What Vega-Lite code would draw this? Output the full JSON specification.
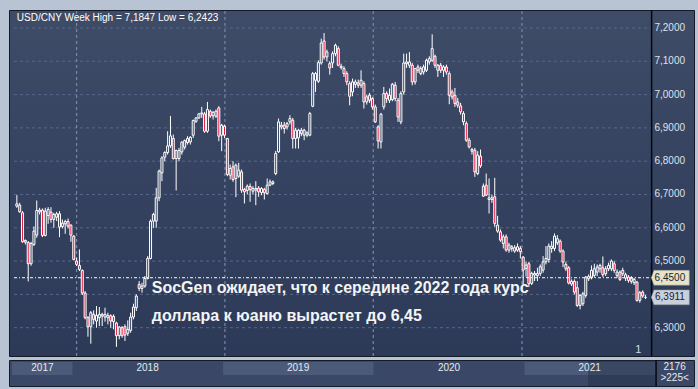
{
"$schema": "https://vega.github.io/schema/vega-lite/v6.json",
"padding": {"left": 8, "top": 8, "right": 5, "bottom": 9},
"background": "#b8c4d3",
"spacing": 0,
"config": {"view": {"stroke": "#151b26", "strokeWidth": 1}, "font": "Liberation Sans"},
"datasets": {
"grid": [{"v":6.3,"t":"6,3000"},{"v":6.4,"t":"6,4000"},{"v":6.5,"t":"6,5000"},{"v":6.6,"t":"6,6000"},{"v":6.7,"t":"6,7000"},{"v":6.8,"t":"6,8000"},{"v":6.9,"t":"6,9000"},{"v":7.0,"t":"7,0000"},{"v":7.1,"t":"7,1000"},{"v":7.2,"t":"7,2000"}],
"vgrid": [{"g":"2018-01-01","lo":6.215,"hi":7.254},{"g":"2019-01-01","lo":6.215,"hi":7.254},{"g":"2020-01-01","lo":6.215,"hi":7.254},{"g":"2021-01-01","lo":6.215,"hi":7.254}],
"sep": [{"g":"2021-11-16","lo":6.215,"hi":7.254}],
"one": [{}],
"years": [
{"y":"2017","s":"2017-08-07","e":"2018-01-01","m":"2017-10-20","shade":true},
{"y":"2018","s":"2018-01-01","e":"2019-01-01","m":"2018-07-02","shade":false},
{"y":"2019","s":"2019-01-01","e":"2020-01-01","m":"2019-07-02","shade":true},
{"y":"2020","s":"2020-01-01","e":"2021-01-01","m":"2020-07-02","shade":false},
{"y":"2021","s":"2021-01-01","e":"2021-11-14","m":"2021-06-08","shade":true}
],
"candles": [
{"d":"2017-08-07","o":6.665,"h":6.698,"l":6.660,"c":6.672},
{"d":"2017-08-14","o":6.668,"h":6.675,"l":6.645,"c":6.648},
{"d":"2017-08-21","o":6.645,"h":6.650,"l":6.555,"c":6.558},
{"d":"2017-08-28","o":6.557,"h":6.565,"l":6.550,"c":6.562},
{"d":"2017-09-04","o":6.556,"h":6.560,"l":6.439,"c":6.492},
{"d":"2017-09-11","o":6.492,"h":6.558,"l":6.486,"c":6.553},
{"d":"2017-09-18","o":6.550,"h":6.604,"l":6.545,"c":6.590},
{"d":"2017-09-25","o":6.578,"h":6.682,"l":6.570,"c":6.652},
{"d":"2017-10-02","o":6.648,"h":6.660,"l":6.640,"c":6.653},
{"d":"2017-10-09","o":6.653,"h":6.658,"l":6.572,"c":6.577},
{"d":"2017-10-16","o":6.577,"h":6.660,"l":6.574,"c":6.650},
{"d":"2017-10-23","o":6.637,"h":6.662,"l":6.612,"c":6.655},
{"d":"2017-10-30","o":6.647,"h":6.662,"l":6.615,"c":6.625},
{"d":"2017-11-06","o":6.625,"h":6.645,"l":6.600,"c":6.640},
{"d":"2017-11-13","o":6.632,"h":6.648,"l":6.620,"c":6.642},
{"d":"2017-11-20","o":6.642,"h":6.650,"l":6.572,"c":6.602},
{"d":"2017-11-27","o":6.604,"h":6.625,"l":6.598,"c":6.614},
{"d":"2017-12-04","o":6.612,"h":6.624,"l":6.582,"c":6.619},
{"d":"2017-12-11","o":6.619,"h":6.628,"l":6.598,"c":6.605},
{"d":"2017-12-18","o":6.608,"h":6.610,"l":6.558,"c":6.578},
{"d":"2017-12-25","o":6.575,"h":6.578,"l":6.502,"c":6.505},
{"d":"2018-01-01","o":6.500,"h":6.510,"l":6.485,"c":6.490},
{"d":"2018-01-08","o":6.487,"h":6.535,"l":6.470,"c":6.475},
{"d":"2018-01-15","o":6.472,"h":6.475,"l":6.398,"c":6.404},
{"d":"2018-01-22","o":6.404,"h":6.410,"l":6.325,"c":6.330},
{"d":"2018-01-29","o":6.330,"h":6.335,"l":6.273,"c":6.303},
{"d":"2018-02-05","o":6.303,"h":6.350,"l":6.252,"c":6.345},
{"d":"2018-02-12","o":6.340,"h":6.352,"l":6.310,"c":6.325},
{"d":"2018-02-19","o":6.320,"h":6.365,"l":6.300,"c":6.337},
{"d":"2018-02-26","o":6.330,"h":6.362,"l":6.305,"c":6.340},
{"d":"2018-03-05","o":6.335,"h":6.345,"l":6.305,"c":6.340},
{"d":"2018-03-12","o":6.332,"h":6.360,"l":6.318,"c":6.340},
{"d":"2018-03-19","o":6.330,"h":6.345,"l":6.310,"c":6.337},
{"d":"2018-03-26","o":6.336,"h":6.340,"l":6.300,"c":6.320},
{"d":"2018-04-02","o":6.334,"h":6.340,"l":6.295,"c":6.318},
{"d":"2018-04-09","o":6.314,"h":6.318,"l":6.2423,"c":6.276},
{"d":"2018-04-16","o":6.276,"h":6.305,"l":6.265,"c":6.302},
{"d":"2018-04-23","o":6.300,"h":6.305,"l":6.270,"c":6.276},
{"d":"2018-04-30","o":6.303,"h":6.310,"l":6.260,"c":6.278},
{"d":"2018-05-07","o":6.283,"h":6.322,"l":6.275,"c":6.295},
{"d":"2018-05-14","o":6.292,"h":6.345,"l":6.285,"c":6.332},
{"d":"2018-05-21","o":6.332,"h":6.372,"l":6.325,"c":6.362},
{"d":"2018-05-28","o":6.360,"h":6.400,"l":6.350,"c":6.395},
{"d":"2018-06-04","o":6.430,"h":6.440,"l":6.410,"c":6.418},
{"d":"2018-06-11","o":6.418,"h":6.435,"l":6.405,"c":6.425},
{"d":"2018-06-18","o":6.425,"h":6.455,"l":6.420,"c":6.448},
{"d":"2018-06-25","o":6.448,"h":6.515,"l":6.445,"c":6.508},
{"d":"2018-07-02","o":6.508,"h":6.625,"l":6.505,"c":6.620},
{"d":"2018-07-09","o":6.620,"h":6.645,"l":6.600,"c":6.640},
{"d":"2018-07-16","o":6.620,"h":6.720,"l":6.600,"c":6.690},
{"d":"2018-07-23","o":6.690,"h":6.775,"l":6.680,"c":6.770},
{"d":"2018-07-30","o":6.765,"h":6.815,"l":6.740,"c":6.810},
{"d":"2018-08-06","o":6.812,"h":6.830,"l":6.800,"c":6.826},
{"d":"2018-08-13","o":6.826,"h":6.890,"l":6.820,"c":6.846},
{"d":"2018-08-20","o":6.846,"h":6.936,"l":6.840,"c":6.876},
{"d":"2018-08-27","o":6.868,"h":6.880,"l":6.805,"c":6.808},
{"d":"2018-09-03","o":6.808,"h":6.835,"l":6.712,"c":6.832},
{"d":"2018-09-10","o":6.808,"h":6.840,"l":6.800,"c":6.832},
{"d":"2018-09-17","o":6.828,"h":6.860,"l":6.820,"c":6.857},
{"d":"2018-09-24","o":6.842,"h":6.865,"l":6.835,"c":6.862},
{"d":"2018-10-01","o":6.868,"h":6.875,"l":6.850,"c":6.856},
{"d":"2018-10-08","o":6.858,"h":6.875,"l":6.850,"c":6.872},
{"d":"2018-10-15","o":6.878,"h":6.925,"l":6.870,"c":6.922},
{"d":"2018-10-22","o":6.920,"h":6.932,"l":6.915,"c":6.930},
{"d":"2018-10-29","o":6.930,"h":6.945,"l":6.927,"c":6.942},
{"d":"2018-11-05","o":6.942,"h":6.963,"l":6.930,"c":6.945},
{"d":"2018-11-12","o":6.942,"h":6.948,"l":6.885,"c":6.890},
{"d":"2018-11-19","o":6.890,"h":6.978,"l":6.885,"c":6.955},
{"d":"2018-11-26","o":6.950,"h":6.955,"l":6.930,"c":6.936},
{"d":"2018-12-03","o":6.936,"h":6.950,"l":6.925,"c":6.947},
{"d":"2018-12-10","o":6.935,"h":6.955,"l":6.930,"c":6.950},
{"d":"2018-12-17","o":6.960,"h":6.965,"l":6.860,"c":6.875},
{"d":"2018-12-24","o":6.878,"h":6.912,"l":6.830,"c":6.908},
{"d":"2018-12-31","o":6.905,"h":6.910,"l":6.870,"c":6.878},
{"d":"2019-01-07","o":6.868,"h":6.870,"l":6.755,"c":6.760},
{"d":"2019-01-14","o":6.758,"h":6.790,"l":6.745,"c":6.778},
{"d":"2019-01-21","o":6.783,"h":6.800,"l":6.738,"c":6.745},
{"d":"2019-01-28","o":6.748,"h":6.793,"l":6.692,"c":6.788},
{"d":"2019-02-04","o":6.755,"h":6.795,"l":6.750,"c":6.773},
{"d":"2019-02-11","o":6.768,"h":6.775,"l":6.705,"c":6.713},
{"d":"2019-02-18","o":6.715,"h":6.720,"l":6.673,"c":6.708},
{"d":"2019-02-25","o":6.712,"h":6.730,"l":6.700,"c":6.725},
{"d":"2019-03-04","o":6.724,"h":6.733,"l":6.678,"c":6.715},
{"d":"2019-03-11","o":6.710,"h":6.725,"l":6.700,"c":6.718},
{"d":"2019-03-18","o":6.713,"h":6.740,"l":6.668,"c":6.718},
{"d":"2019-03-25","o":6.719,"h":6.725,"l":6.693,"c":6.708},
{"d":"2019-04-01","o":6.706,"h":6.722,"l":6.698,"c":6.718},
{"d":"2019-04-08","o":6.715,"h":6.720,"l":6.685,"c":6.705},
{"d":"2019-04-15","o":6.703,"h":6.748,"l":6.700,"c":6.728},
{"d":"2019-04-22","o":6.728,"h":6.745,"l":6.725,"c":6.738},
{"d":"2019-04-29","o":6.733,"h":6.742,"l":6.728,"c":6.738},
{"d":"2019-05-06","o":6.763,"h":6.831,"l":6.758,"c":6.823},
{"d":"2019-05-13","o":6.828,"h":6.928,"l":6.825,"c":6.918},
{"d":"2019-05-20","o":6.903,"h":6.918,"l":6.895,"c":6.908},
{"d":"2019-05-27","o":6.908,"h":6.918,"l":6.883,"c":6.898},
{"d":"2019-06-03","o":6.903,"h":6.918,"l":6.895,"c":6.913},
{"d":"2019-06-10","o":6.918,"h":6.938,"l":6.910,"c":6.928},
{"d":"2019-06-17","o":6.923,"h":6.930,"l":6.838,"c":6.868},
{"d":"2019-06-24","o":6.868,"h":6.900,"l":6.838,"c":6.893},
{"d":"2019-07-01","o":6.870,"h":6.897,"l":6.838,"c":6.893},
{"d":"2019-07-08","o":6.893,"h":6.900,"l":6.875,"c":6.883},
{"d":"2019-07-15","o":6.878,"h":6.897,"l":6.863,"c":6.893},
{"d":"2019-07-22","o":6.878,"h":6.890,"l":6.872,"c":6.885},
{"d":"2019-07-29","o":6.878,"h":6.948,"l":6.875,"c":6.943},
{"d":"2019-08-05","o":6.965,"h":7.068,"l":6.962,"c":7.063},
{"d":"2019-08-12","o":7.043,"h":7.068,"l":7.008,"c":7.063},
{"d":"2019-08-19","o":7.040,"h":7.103,"l":7.035,"c":7.096},
{"d":"2019-08-26","o":7.095,"h":7.168,"l":7.090,"c":7.155},
{"d":"2019-09-02","o":7.161,"h":7.1847,"l":7.105,"c":7.113},
{"d":"2019-09-09","o":7.113,"h":7.135,"l":7.100,"c":7.128},
{"d":"2019-09-16","o":7.093,"h":7.100,"l":7.060,"c":7.080},
{"d":"2019-09-23","o":7.095,"h":7.130,"l":7.080,"c":7.123},
{"d":"2019-09-30","o":7.123,"h":7.153,"l":7.115,"c":7.148},
{"d":"2019-10-07","o":7.138,"h":7.145,"l":7.085,"c":7.088},
{"d":"2019-10-14","o":7.081,"h":7.093,"l":7.075,"c":7.085},
{"d":"2019-10-21","o":7.078,"h":7.085,"l":7.053,"c":7.063},
{"d":"2019-10-28","o":7.063,"h":7.070,"l":7.028,"c":7.038},
{"d":"2019-11-04","o":7.033,"h":7.040,"l":6.968,"c":6.995},
{"d":"2019-11-11","o":7.008,"h":7.048,"l":6.995,"c":7.038},
{"d":"2019-11-18","o":7.031,"h":7.045,"l":7.020,"c":7.038},
{"d":"2019-11-25","o":7.035,"h":7.045,"l":7.020,"c":7.028},
{"d":"2019-12-02","o":7.028,"h":7.073,"l":7.020,"c":7.043},
{"d":"2019-12-09","o":7.033,"h":7.040,"l":6.958,"c":6.978},
{"d":"2019-12-16","o":6.978,"h":7.000,"l":6.970,"c":6.993},
{"d":"2019-12-23","o":6.998,"h":7.005,"l":6.975,"c":6.983},
{"d":"2019-12-30","o":6.988,"h":6.992,"l":6.955,"c":6.963},
{"d":"2020-01-06","o":6.963,"h":6.970,"l":6.915,"c":6.918},
{"d":"2020-01-13","o":6.903,"h":6.908,"l":6.838,"c":6.861},
{"d":"2020-01-20","o":6.858,"h":6.945,"l":6.838,"c":6.941},
{"d":"2020-01-27","o":6.963,"h":7.023,"l":6.955,"c":7.003},
{"d":"2020-02-03","o":7.003,"h":7.010,"l":6.975,"c":6.988},
{"d":"2020-02-10","o":6.983,"h":7.018,"l":6.975,"c":6.998},
{"d":"2020-02-17","o":6.985,"h":7.035,"l":6.980,"c":7.031},
{"d":"2020-02-24","o":7.028,"h":7.038,"l":6.980,"c":6.988},
{"d":"2020-03-02","o":6.983,"h":6.990,"l":6.918,"c":6.933},
{"d":"2020-03-09","o":6.918,"h":7.010,"l":6.911,"c":7.003},
{"d":"2020-03-16","o":7.008,"h":7.123,"l":7.000,"c":7.095},
{"d":"2020-03-23","o":7.093,"h":7.123,"l":7.080,"c":7.098},
{"d":"2020-03-30","o":7.088,"h":7.128,"l":7.080,"c":7.098},
{"d":"2020-04-06","o":7.088,"h":7.095,"l":7.028,"c":7.038},
{"d":"2020-04-13","o":7.038,"h":7.080,"l":7.030,"c":7.078},
{"d":"2020-04-20","o":7.083,"h":7.090,"l":7.065,"c":7.073},
{"d":"2020-04-27","o":7.063,"h":7.085,"l":7.058,"c":7.078},
{"d":"2020-05-04","o":7.068,"h":7.090,"l":7.060,"c":7.083},
{"d":"2020-05-11","o":7.073,"h":7.108,"l":7.068,"c":7.103},
{"d":"2020-05-18","o":7.098,"h":7.115,"l":7.090,"c":7.108},
{"d":"2020-05-25","o":7.103,"h":7.181,"l":7.098,"c":7.138},
{"d":"2020-06-01","o":7.115,"h":7.120,"l":7.080,"c":7.088},
{"d":"2020-06-08","o":7.073,"h":7.092,"l":7.053,"c":7.088},
{"d":"2020-06-15","o":7.088,"h":7.095,"l":7.065,"c":7.073},
{"d":"2020-06-22","o":7.073,"h":7.088,"l":7.053,"c":7.083},
{"d":"2020-06-29","o":7.083,"h":7.090,"l":7.060,"c":7.068},
{"d":"2020-07-06","o":7.063,"h":7.070,"l":6.971,"c":6.998},
{"d":"2020-07-13","o":7.008,"h":7.015,"l":6.985,"c":6.993},
{"d":"2020-07-20","o":6.998,"h":7.020,"l":6.963,"c":6.973},
{"d":"2020-07-27","o":6.978,"h":6.990,"l":6.960,"c":6.968},
{"d":"2020-08-03","o":6.966,"h":6.975,"l":6.940,"c":6.948},
{"d":"2020-08-10","o":6.943,"h":6.950,"l":6.908,"c":6.918},
{"d":"2020-08-17","o":6.913,"h":6.920,"l":6.858,"c":6.863},
{"d":"2020-08-24","o":6.863,"h":6.870,"l":6.838,"c":6.843},
{"d":"2020-08-31","o":6.830,"h":6.840,"l":6.820,"c":6.835},
{"d":"2020-09-07","o":6.833,"h":6.840,"l":6.753,"c":6.768},
{"d":"2020-09-14","o":6.763,"h":6.830,"l":6.758,"c":6.818},
{"d":"2020-09-21","o":6.815,"h":6.835,"l":6.780,"c":6.786},
{"d":"2020-09-28","o":6.725,"h":6.733,"l":6.693,"c":6.695},
{"d":"2020-10-05","o":6.728,"h":6.763,"l":6.695,"c":6.698},
{"d":"2020-10-12","o":6.685,"h":6.748,"l":6.643,"c":6.690},
{"d":"2020-10-19","o":6.685,"h":6.700,"l":6.675,"c":6.690},
{"d":"2020-10-26","o":6.693,"h":6.750,"l":6.603,"c":6.613},
{"d":"2020-11-02","o":6.590,"h":6.636,"l":6.585,"c":6.608},
{"d":"2020-11-09","o":6.588,"h":6.595,"l":6.558,"c":6.563},
{"d":"2020-11-16","o":6.553,"h":6.580,"l":6.538,"c":6.573},
{"d":"2020-11-23","o":6.573,"h":6.580,"l":6.528,"c":6.533},
{"d":"2020-11-30","o":6.533,"h":6.555,"l":6.525,"c":6.548},
{"d":"2020-12-07","o":6.538,"h":6.548,"l":6.528,"c":6.543},
{"d":"2020-12-14","o":6.530,"h":6.548,"l":6.525,"c":6.540},
{"d":"2020-12-21","o":6.533,"h":6.553,"l":6.528,"c":6.543},
{"d":"2020-12-28","o":6.538,"h":6.545,"l":6.508,"c":6.528},
{"d":"2021-01-04","o":6.512,"h":6.515,"l":6.430,"c":6.473},
{"d":"2021-01-11","o":6.478,"h":6.498,"l":6.453,"c":6.488},
{"d":"2021-01-18","o":6.492,"h":6.498,"l":6.422,"c":6.432},
{"d":"2021-01-25","o":6.433,"h":6.468,"l":6.428,"c":6.463},
{"d":"2021-02-01","o":6.458,"h":6.470,"l":6.440,"c":6.463},
{"d":"2021-02-08","o":6.456,"h":6.480,"l":6.440,"c":6.463},
{"d":"2021-02-15","o":6.463,"h":6.490,"l":6.455,"c":6.483},
{"d":"2021-02-22","o":6.473,"h":6.515,"l":6.465,"c":6.498},
{"d":"2021-03-01","o":6.498,"h":6.545,"l":6.490,"c":6.508},
{"d":"2021-03-08","o":6.505,"h":6.553,"l":6.495,"c":6.545},
{"d":"2021-03-15","o":6.538,"h":6.560,"l":6.525,"c":6.545},
{"d":"2021-03-22","o":6.538,"h":6.583,"l":6.530,"c":6.575},
{"d":"2021-03-29","o":6.555,"h":6.578,"l":6.548,"c":6.567},
{"d":"2021-04-05","o":6.560,"h":6.565,"l":6.525,"c":6.530},
{"d":"2021-04-12","o":6.530,"h":6.535,"l":6.482,"c":6.497},
{"d":"2021-04-19","o":6.490,"h":6.498,"l":6.470,"c":6.477},
{"d":"2021-04-26","o":6.480,"h":6.485,"l":6.430,"c":6.434},
{"d":"2021-05-03","o":6.431,"h":6.445,"l":6.425,"c":6.439},
{"d":"2021-05-10","o":6.439,"h":6.445,"l":6.400,"c":6.407},
{"d":"2021-05-17","o":6.420,"h":6.440,"l":6.362,"c":6.367},
{"d":"2021-05-24","o":6.367,"h":6.400,"l":6.355,"c":6.397},
{"d":"2021-05-31","o":6.372,"h":6.408,"l":6.365,"c":6.402},
{"d":"2021-06-07","o":6.397,"h":6.455,"l":6.390,"c":6.452},
{"d":"2021-06-14","o":6.447,"h":6.460,"l":6.440,"c":6.454},
{"d":"2021-06-21","o":6.452,"h":6.487,"l":6.445,"c":6.472},
{"d":"2021-06-28","o":6.457,"h":6.492,"l":6.450,"c":6.477},
{"d":"2021-07-05","o":6.467,"h":6.490,"l":6.455,"c":6.482},
{"d":"2021-07-12","o":6.477,"h":6.492,"l":6.465,"c":6.487},
{"d":"2021-07-19","o":6.480,"h":6.514,"l":6.452,"c":6.459},
{"d":"2021-07-26","o":6.462,"h":6.485,"l":6.455,"c":6.477},
{"d":"2021-08-02","o":6.477,"h":6.495,"l":6.470,"c":6.487},
{"d":"2021-08-09","o":6.477,"h":6.505,"l":6.470,"c":6.500},
{"d":"2021-08-16","o":6.492,"h":6.500,"l":6.465,"c":6.472},
{"d":"2021-08-23","o":6.457,"h":6.475,"l":6.450,"c":6.467},
{"d":"2021-08-30","o":6.467,"h":6.472,"l":6.440,"c":6.445},
{"d":"2021-09-06","o":6.462,"h":6.480,"l":6.455,"c":6.472},
{"d":"2021-09-13","o":6.449,"h":6.465,"l":6.440,"c":6.459},
{"d":"2021-09-20","o":6.452,"h":6.458,"l":6.435,"c":6.442},
{"d":"2021-09-27","o":6.449,"h":6.455,"l":6.432,"c":6.439},
{"d":"2021-10-04","o":6.435,"h":6.450,"l":6.428,"c":6.445},
{"d":"2021-10-11","o":6.437,"h":6.440,"l":6.378,"c":6.382},
{"d":"2021-10-18","o":6.382,"h":6.410,"l":6.375,"c":6.405},
{"d":"2021-10-25","o":6.407,"h":6.412,"l":6.390,"c":6.395},
{"d":"2021-11-01","o":6.3905,"h":6.398,"l":6.386,"c":6.3911}
]
},
"vconcat": [
{
"width": 685,
"height": 346,
"view": {"fill": {"gradient": "linear", "x1": 0, "y1": 0, "x2": 0, "y2": 1, "stops": [{"offset": 0, "color": "#3f4c68"}, {"offset": 1, "color": "#2c3957"}]}, "stroke": "#151b26"},
"layer": [
{
"data": {"name": "grid"},
"mark": {"type": "rule", "stroke": "#58668a", "strokeDash": [3, 3], "strokeWidth": 1},
"encoding": {
"y": {"field": "v", "type": "quantitative", "scale": {"domain": [6.215, 7.254], "nice": false, "zero": false}, "axis": null},
"x": {"datum": {"year": 2017, "month": 7, "date": 31, "utc": true}, "type": "temporal",
"scale": {"type": "utc", "domain": [{"year": 2017, "month": 7, "date": 31, "utc": true}, {"year": 2022, "month": 2, "date": 16, "utc": true}]},
"axis": null},
"x2": {"datum": {"year": 2021, "month": 11, "date": 16, "utc": true}}
}
},
{
"data": {"name": "vgrid"},
"mark": {"type": "rule", "stroke": "#7886a8", "strokeDash": [3, 3], "strokeWidth": 1.2},
"encoding": {
"x": {"field": "g", "type": "temporal", "axis": null},
"y": {"field": "lo", "type": "quantitative", "axis": null},
"y2": {"field": "hi"}
}
},
{
"data": {"name": "sep"},
"mark": {"type": "rule", "stroke": "#05070b", "strokeWidth": 1.5},
"encoding": {
"x": {"field": "g", "type": "temporal", "axis": null},
"y": {"field": "lo", "type": "quantitative", "axis": null},
"y2": {"field": "hi"}
}
},
{
"data": {"name": "grid"},
"transform": [{"filter": "datum.v != 6.4"}],
"mark": {"type": "text", "align": "left", "baseline": "middle", "fontSize": 10, "font": "Liberation Sans", "color": "#dde2ea"},
"encoding": {
"x": {"datum": {"year": 2021, "month": 11, "date": 23, "utc": true}, "type": "temporal", "axis": null},
"y": {"field": "v", "type": "quantitative", "axis": null},
"text": {"field": "t"}
}
},
{
"data": {"name": "candles"},
"mark": {"type": "rule", "stroke": "#ffffff", "strokeWidth": 1},
"encoding": {
"x": {"field": "d", "type": "temporal", "axis": null},
"y": {"field": "l", "type": "quantitative", "axis": null},
"y2": {"field": "h"}
}
},
{
"data": {"name": "candles"},
"mark": {"type": "bar", "width": 2, "stroke": "#ffffff", "strokeWidth": 1},
"encoding": {
"x": {"field": "d", "type": "temporal", "axis": null},
"y": {"field": "o", "type": "quantitative", "axis": null},
"y2": {"field": "c"},
"fill": {"condition": {"test": "datum.c < datum.o", "value": "#e3173e"}, "value": "#37445f"}
}
},
{
"data": {"name": "one"},
"mark": {"type": "rule", "stroke": "#ffffff", "strokeDash": [3, 2, 1, 2], "strokeWidth": 1},
"encoding": {
"y": {"datum": 6.45, "type": "quantitative", "axis": null},
"x": {"datum": {"year": 2017, "month": 7, "date": 31, "utc": true}, "type": "temporal", "axis": null},
"x2": {"datum": {"year": 2021, "month": 11, "date": 16, "utc": true}}
}
},
{
"data": {"name": "one"},
"mark": {"type": "point", "shape": "M-1,0L-0.86,-0.39L1,-0.39L1,0.39L-0.86,0.39Z", "filled": true, "size": 1444, "fill": "#e6e4c6", "stroke": "#8d949e", "strokeWidth": 0.5, "opacity": 1},
"encoding": {
"x": {"datum": {"year": 2022, "month": 1, "date": 1, "utc": true}, "type": "temporal", "axis": null},
"y": {"datum": 6.45, "type": "quantitative", "axis": null}
}
},
{
"data": {"name": "one"},
"mark": {"type": "point", "shape": "M-1,0L-0.86,-0.39L1,-0.39L1,0.39L-0.86,0.39Z", "filled": true, "size": 1444, "fill": "#c9d0da", "stroke": "#8d949e", "strokeWidth": 0.5, "opacity": 1},
"encoding": {
"x": {"datum": {"year": 2022, "month": 1, "date": 1, "utc": true}, "type": "temporal", "axis": null},
"y": {"datum": 6.3911, "type": "quantitative", "axis": null}
}
},
{
"data": {"name": "one"},
"mark": {"type": "text", "align": "center", "baseline": "middle", "fontSize": 10, "font": "Liberation Sans", "color": "#1b2233"},
"encoding": {
"x": {"datum": {"year": 2021, "month": 12, "date": 31, "utc": true}, "type": "temporal", "axis": null},
"y": {"datum": 6.45, "type": "quantitative", "axis": null},
"text": {"value": "6,4500"}
}
},
{
"data": {"name": "one"},
"mark": {"type": "text", "align": "center", "baseline": "middle", "fontSize": 10, "font": "Liberation Sans", "color": "#1b2233"},
"encoding": {
"x": {"datum": {"year": 2021, "month": 12, "date": 31, "utc": true}, "type": "temporal", "axis": null},
"y": {"datum": 6.3911, "type": "quantitative", "axis": null},
"text": {"value": "6,3911"}
}
},
{
"data": {"name": "one"},
"mark": {"type": "text", "align": "left", "baseline": "alphabetic", "fontSize": 10, "font": "Liberation Sans", "color": "#ffffff"},
"encoding": {
"x": {"datum": {"year": 2017, "month": 8, "date": 7, "utc": true}, "type": "temporal", "axis": null},
"y": {"datum": 7.221, "type": "quantitative", "axis": null},
"text": {"value": "USD/CNY Week High = 7,1847 Low = 6,2423"}
}
},
{
"data": {"name": "one"},
"mark": {"type": "text", "align": "left", "baseline": "alphabetic", "fontSize": 16, "fontWeight": "bold", "font": "Liberation Sans", "color": "#f4f4f4", "lineHeight": 28},
"encoding": {
"x": {"datum": {"year": 2018, "month": 7, "date": 5, "utc": true}, "type": "temporal", "axis": null},
"y": {"datum": 6.4027, "type": "quantitative", "axis": null},
"text": {"value": ["SocGen ожидает, что к середине 2022 года курс", "доллара к юаню вырастет до 6,45"]}
}
},
{
"data": {"name": "one"},
"mark": {"type": "text", "align": "left", "baseline": "bottom", "fontSize": 11, "font": "Liberation Sans", "color": "#d5dbe4"},
"encoding": {
"x": {"datum": {"year": 2021, "month": 10, "date": 7, "utc": true}, "type": "temporal", "axis": null},
"y": {"datum": 6.219, "type": "quantitative", "axis": null},
"text": {"value": "1"}
}
}
]
},
{
"width": 685,
"height": 26,
"view": {"fill": "#3a4766", "stroke": "#151b26"},
"layer": [
{
"data": {"name": "years"},
"transform": [{"filter": "datum.shade"}],
"mark": {"type": "rect", "fill": "#4b5a79"},
"encoding": {
"x": {"field": "s", "type": "temporal", "scale": {"type": "utc", "domain": [{"year": 2017, "month": 7, "date": 31, "utc": true}, {"year": 2022, "month": 2, "date": 16, "utc": true}]}, "axis": null},
"x2": {"field": "e"},
"y": {"datum": 24, "type": "quantitative", "scale": {"domain": [0, 26], "nice": false, "zero": false}, "axis": null},
"y2": {"datum": 11}
}
},
{
"data": {"name": "one"},
"mark": {"type": "rect", "fill": "#1c2740", "opacity": 0.35},
"encoding": {
"x": {"datum": {"year": 2021, "month": 6, "date": 4, "utc": true}, "type": "temporal", "axis": null},
"x2": {"datum": {"year": 2021, "month": 11, "date": 13, "utc": true}}
}
},
{
"data": {"name": "years"},
"mark": {"type": "text", "color": "#e6eaf0", "fontSize": 10, "font": "Liberation Sans", "baseline": "middle"},
"encoding": {
"x": {"field": "m", "type": "temporal", "axis": null},
"y": {"datum": 18, "type": "quantitative", "axis": null},
"text": {"field": "y"}
}
},
{
"data": {"name": "one"},
"mark": {"type": "rule", "stroke": "#05070b", "strokeWidth": 1.5},
"encoding": {
"x": {"datum": {"year": 2021, "month": 11, "date": 16, "utc": true}, "type": "temporal", "axis": null}
}
},
{
"data": {"name": "one"},
"mark": {"type": "text", "align": "center", "baseline": "middle", "fontSize": 10, "font": "Liberation Sans", "color": "#e6eaf0"},
"encoding": {
"x": {"datum": {"year": 2021, "month": 12, "date": 31, "utc": true}, "type": "temporal", "axis": null},
"y": {"datum": 19.5, "type": "quantitative", "axis": null},
"text": {"value": "2176"}
}
},
{
"data": {"name": "one"},
"mark": {"type": "text", "align": "center", "baseline": "middle", "fontSize": 10, "font": "Liberation Sans", "color": "#e6eaf0"},
"encoding": {
"x": {"datum": {"year": 2021, "month": 12, "date": 31, "utc": true}, "type": "temporal", "axis": null},
"y": {"datum": 8, "type": "quantitative", "axis": null},
"text": {"value": ">225<"}
}
}
]
}
]
}
